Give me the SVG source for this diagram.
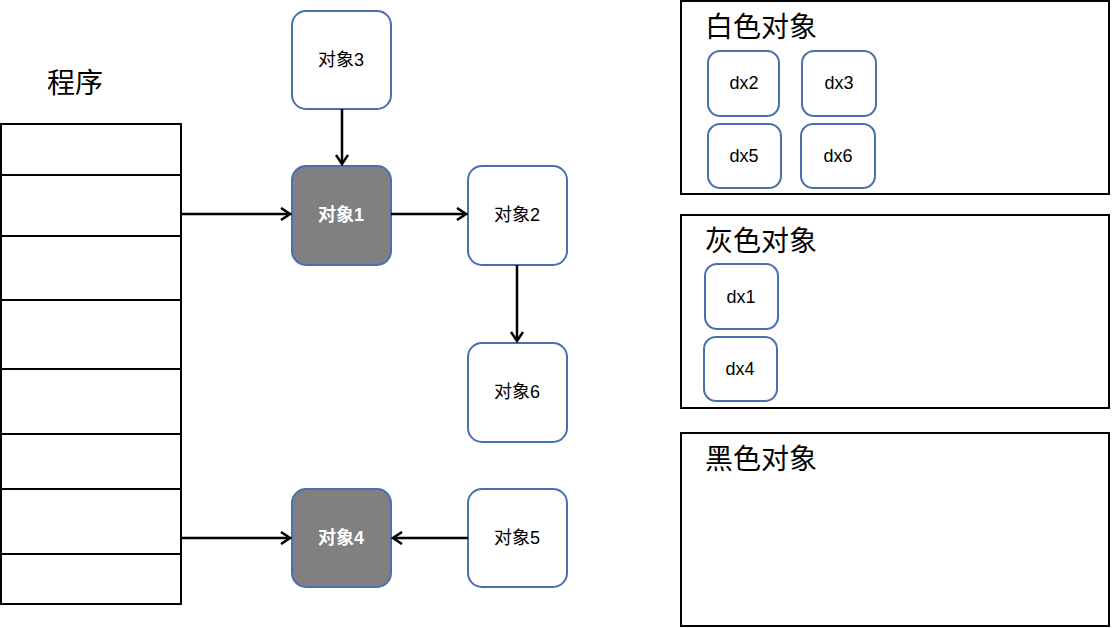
<svg xmlns="http://www.w3.org/2000/svg" width="1112" height="628" viewBox="0 0 1112 628">
<style>
.cell{fill:#fff;stroke:#000;stroke-width:2}
.n{fill:#fff;stroke:#4a6fae;stroke-width:2}
.g{fill:#808080;stroke:#4a6fae;stroke-width:2}
.t{font-family:"Liberation Sans","Noto Sans CJK SC",sans-serif;font-size:18px;text-anchor:middle;dominant-baseline:central;fill:#000}
.tb{font-family:"Liberation Sans","Noto Sans CJK SC",sans-serif;font-size:18px;font-weight:bold;text-anchor:middle;dominant-baseline:central;fill:#fff}
.h{font-family:"Noto Sans CJK SC",sans-serif;font-size:28px;fill:#000}
.c{stroke:#000;stroke-width:2.5;fill:none;marker-end:url(#a)}
</style>
<defs><marker id="a" markerWidth="12" markerHeight="14" refX="10" refY="7" orient="auto" markerUnits="userSpaceOnUse"><path d="M1,1 L10,7 L1,13" fill="none" stroke="#000" stroke-width="2.5"/></marker></defs>
<text class="h" x="47" y="93">程序</text>
<g id="stack">
<rect class="cell" x="1" y="124" width="180" height="51"/>
<rect class="cell" x="1" y="175" width="180" height="61"/>
<rect class="cell" x="1" y="236" width="180" height="64"/>
<rect class="cell" x="1" y="300" width="180" height="69"/>
<rect class="cell" x="1" y="369" width="180" height="65"/>
<rect class="cell" x="1" y="434" width="180" height="55"/>
<rect class="cell" x="1" y="489" width="180" height="65"/>
<rect class="cell" x="1" y="554" width="180" height="50"/>
</g>
<g id="obj3"><rect class="n" x="292" y="11" width="99" height="98" rx="14"/><text class="t" x="341" y="60">对象3</text></g>
<g id="obj1"><rect class="g" x="292" y="166" width="99" height="99" rx="14"/><text class="tb" x="341" y="215">对象1</text></g>
<g id="obj2"><rect class="n" x="468" y="166" width="99" height="99" rx="14"/><text class="t" x="517" y="215">对象2</text></g>
<g id="obj6"><rect class="n" x="468" y="343" width="99" height="99" rx="14"/><text class="t" x="517" y="392">对象6</text></g>
<g id="obj4"><rect class="g" x="292" y="489" width="99" height="98" rx="14"/><text class="tb" x="341" y="538">对象4</text></g>
<g id="obj5"><rect class="n" x="468" y="489" width="99" height="98" rx="14"/><text class="t" x="517" y="538">对象5</text></g>
<g id="connectors">
<path class="c" d="M181,214 L290,214"/>
<path class="c" d="M342,109 L342,164"/>
<path class="c" d="M391,214 L466,214"/>
<path class="c" d="M517,265 L517,341"/>
<path class="c" d="M181,538 L290,538"/>
<path class="c" d="M468,538 L393,538"/>
</g>
<g id="white"><rect class="cell" x="681" y="1" width="428" height="193"/><text class="h" x="705" y="37">白色对象</text>
<rect class="n" x="708" y="51" width="71" height="65" rx="12"/><text class="t" x="744" y="83">dx2</text>
<rect class="n" x="802" y="51" width="74" height="65" rx="12"/><text class="t" x="839" y="83">dx3</text>
<rect class="n" x="708" y="124" width="73" height="64" rx="12"/><text class="t" x="744" y="156">dx5</text>
<rect class="n" x="801" y="124" width="74" height="64" rx="12"/><text class="t" x="838" y="156">dx6</text></g>
<g id="gray"><rect class="cell" x="681" y="215" width="428" height="193"/><text class="h" x="705" y="251">灰色对象</text>
<rect class="n" x="705" y="264" width="73" height="65" rx="12"/><text class="t" x="741" y="297">dx1</text>
<rect class="n" x="704" y="337" width="73" height="64" rx="12"/><text class="t" x="740" y="369">dx4</text></g>
<g id="black"><rect class="cell" x="681" y="433" width="428" height="193"/><text class="h" x="705" y="469">黑色对象</text></g>
</svg>
